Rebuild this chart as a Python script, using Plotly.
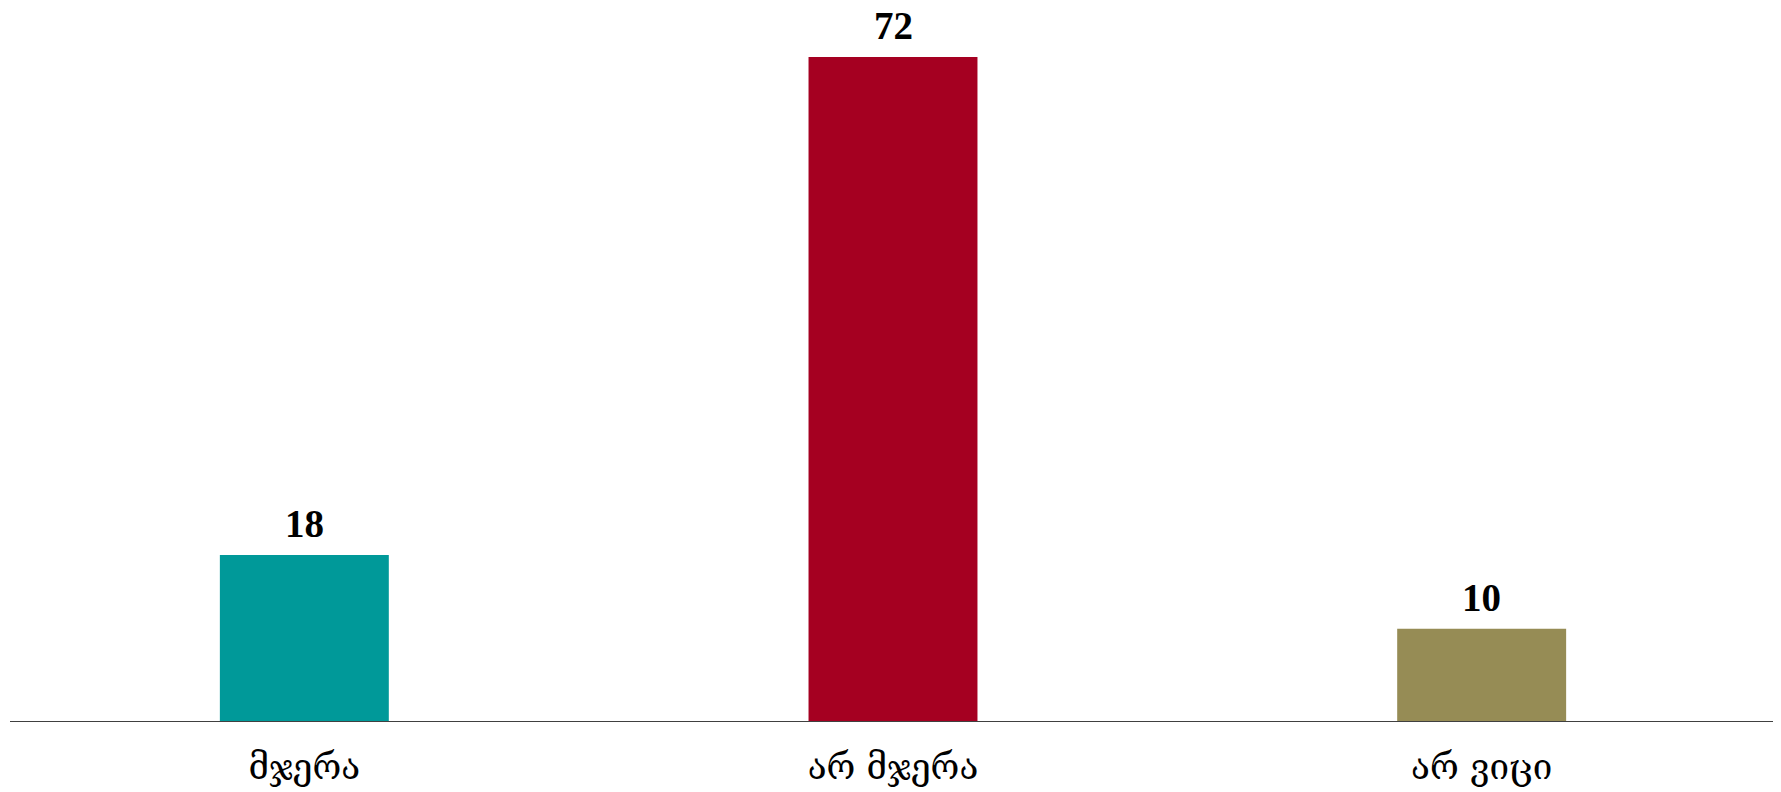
import plotly.graph_objects as go

categories = ["მჯერა", "არ მჯერა", "არ ვიცი"]
values = [18, 72, 10]
colors = ["#009999", "#A50021", "#968C55"]

fig = go.Figure()
fig.add_trace(go.Bar(
    x=categories, y=values, marker_color=colors, marker_line_width=0,
    cliponaxis=False, hoverinfo="x+y",
))
for c, v in zip(categories, values):
    fig.add_annotation(
        x=c, y=v, text=f"<b>{v}</b>", showarrow=False,
        yanchor="bottom", yshift=9, borderpad=0,
        font=dict(family="Liberation Serif", size=39, color="#000000"),
    )
# page body has 8px default margin; margins compensate for that offset
fig.update_layout(
    width=1781, height=792,
    margin=dict(l=2, r=13, t=12, b=79),
    paper_bgcolor="white", plot_bgcolor="white",
    bargap=0.713, showlegend=False,
)
fig.update_xaxes(
    showline=True, linecolor="#404040", linewidth=1.3,
    showgrid=False, ticks="",
    tickfont=dict(family="DejaVu Serif", size=35, color="#000000"),
    ticklabelstandoff=15,
)
fig.update_yaxes(range=[0, 76], visible=False, showgrid=False)
fig.write_html("out.html")
